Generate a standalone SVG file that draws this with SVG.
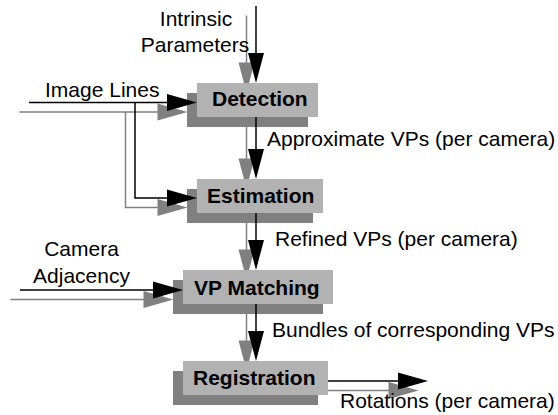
<svg xmlns="http://www.w3.org/2000/svg" width="558" height="415" viewBox="0 0 558 415">
  <style>
    text { font-family: "Liberation Sans", Arial, sans-serif; font-size: 21px; fill: #000; }
    .title { font-weight: bold; }
    .front { fill: #b2b2b2; }
    .shadow { fill: #808080; }
  </style>
  <defs>
    <g id="conn-shapes">
      <!-- Intrinsic Parameters -> Detection -->
      <line x1="256" y1="6" x2="256" y2="54" />
      <polygon points="248,53 264,53 256,83" stroke="none" />
      <!-- Image Lines -> Detection -->
      <line x1="29" y1="102.5" x2="168" y2="102.5" />
      <polygon points="167,94 167,111 197,102.5" stroke="none" />
      <!-- Image Lines -> Estimation -->
      <polyline points="135,102.5 135,198 168,198" fill="none" />
      <polygon points="167,189.5 167,206.5 197,198" stroke="none" />
      <!-- Detection -> Estimation -->
      <line x1="256" y1="117" x2="256" y2="150" />
      <polygon points="248,149 264,149 256,179" stroke="none" />
      <!-- Estimation -> VP Matching -->
      <line x1="256" y1="213" x2="256" y2="241" />
      <polygon points="248,240 264,240 256,270" stroke="none" />
      <!-- Camera Adjacency -> VP Matching -->
      <line x1="20" y1="290" x2="154" y2="290" />
      <polygon points="153,281.5 153,298.5 183,290" stroke="none" />
      <!-- VP Matching -> Registration -->
      <line x1="256" y1="304" x2="256" y2="332" />
      <polygon points="248,331 264,331 256,361" stroke="none" />
      <!-- Registration -> Rotations -->
      <line x1="328" y1="381" x2="399" y2="381" />
      <polygon points="398,372.5 398,389.5 428,381" stroke="none" />
    </g>
  </defs>

  <!-- connector shadows -->
  <g id="connector-shadows" transform="translate(-9.5,9.5)" stroke="#808080" stroke-width="1.5" fill="#808080">
    <use href="#conn-shapes" />
  </g>

  <!-- nodes -->
  <g id="detection">
    <rect class="shadow" x="187" y="93" width="121" height="34" />
    <rect class="front" x="197" y="83" width="121" height="34" />
    <text class="title" x="212" y="106">Detection</text>
  </g>
  <g id="estimation">
    <rect class="shadow" x="187" y="189" width="126" height="34" />
    <rect class="front" x="197" y="179" width="126" height="34" />
    <text class="title" x="207" y="203">Estimation</text>
  </g>
  <g id="vp-matching">
    <rect class="shadow" x="173" y="280" width="150" height="34" />
    <rect class="front" x="183" y="270" width="150" height="34" />
    <text class="title" x="194" y="294.5">VP Matching</text>
  </g>
  <g id="registration">
    <rect class="shadow" x="173" y="371" width="145" height="34" />
    <rect class="front" x="183" y="361" width="145" height="34" />
    <text class="title" x="193" y="385">Registration</text>
  </g>

  <!-- connectors -->
  <g id="connectors" stroke="#000" stroke-width="1.5" fill="#000">
    <use href="#conn-shapes" />
  </g>

  <!-- labels -->
  <g id="labels">
    <text x="196" y="26" text-anchor="middle">Intrinsic</text>
    <text x="195" y="52" text-anchor="middle">Parameters</text>
    <text x="45" y="97">Image Lines</text>
    <text x="81.5" y="256" text-anchor="middle">Camera</text>
    <text x="81.5" y="283" text-anchor="middle">Adjacency</text>
    <text x="267" y="146">Approximate VPs (per camera)</text>
    <text x="275" y="246">Refined VPs (per camera)</text>
    <text x="272" y="337">Bundles of corresponding VPs</text>
    <text x="340" y="408">Rotations (per camera)</text>
  </g>
</svg>
